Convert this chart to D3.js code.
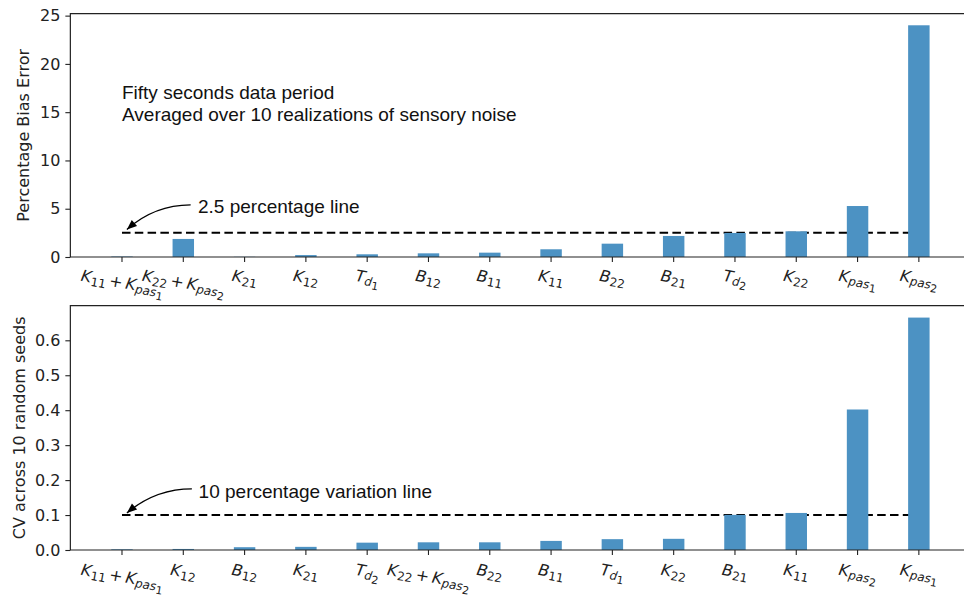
<!DOCTYPE html>
<html>
<head>
<meta charset="utf-8">
<script src="https://cdn.jsdelivr.net/npm/d3@7"></script>
<style>
  body { margin: 0; background: #fff; }
  svg { display: block; }
</style>
</head>
<body>
<div id="chart"></div>
<script>
// data
const topLabels = ["K11+Kpas1", "K22+Kpas2", "K21", "K12", "Td1", "B12", "B11", "K11", "B22", "B21", "Td2", "K22", "Kpas1", "Kpas2"];
const topValues = [0.05, 1.87, 0.02, 0.2, 0.28, 0.38, 0.45, 0.8, 1.38, 2.18, 2.49, 2.66, 5.28, 24.0];
const topTicks = [0, 5, 10, 15, 20, 25];
const topThreshold = 2.5;

const bottomLabels = ["K11+Kpas1", "K12", "B12", "K21", "Td2", "K22+Kpas2", "B22", "B11", "Td1", "K22", "B21", "K11", "Kpas2", "Kpas1"];
const bottomValues = [0.002, 0.003, 0.008, 0.009, 0.021, 0.022, 0.022, 0.026, 0.031, 0.032, 0.1005, 0.106, 0.402, 0.665];
const bottomTicks = [0, 0.1, 0.2, 0.3, 0.4, 0.5, 0.6];
const bottomThreshold = 0.1;

const W = 964, H = 599;
const barColor = "#4c92c3";
const tickFont = "'DejaVu Sans', sans-serif";
const noteFont = "'Liberation Sans', Arial, sans-serif";

const svg = d3.select("#chart").append("svg").attr("width", W).attr("height", H);

// shared x scale (categories are positions 0..13, matplotlib style margins)
const x = d3.scaleLinear().domain([-0.8425, 13.8425]).range([70.35, 970.5]);
const barW = 0.35;

// write a label like K11+Kpas1 as K_{11}+K_{pas_1}
function mathLabel(text, label, size) {
  const sub = size * 0.75, subsub = size * 0.68;
  label.split("+").forEach((term, ti) => {
    if (ti > 0) {
      text.append("tspan").attr("font-size", size).attr("dx", 3).text("+");
    }
    const m = term.match(/^([A-Z])([a-z]*)(\d*)$/);
    text.append("tspan").attr("font-style", "italic").attr("font-size", size)
      .attr("dx", ti > 0 ? 3 : 0).text(m[1]);
    let shift = 0;
    if (m[2]) {
      const d1 = size * 0.16;
      text.append("tspan").attr("font-style", "italic").attr("font-size", sub)
        .attr("dy", d1).text(m[2]);
      shift += d1;
      if (m[3]) {
        const d2 = size * 0.18;
        text.append("tspan").attr("font-size", subsub).attr("dy", d2).text(m[3]);
        shift += d2;
      }
    } else if (m[3]) {
      const d1 = size * 0.2;
      text.append("tspan").attr("font-size", sub).attr("dy", d1).text(m[3]);
      shift += d1;
    }
    if (shift) text.append("tspan").attr("font-size", size).attr("dy", -shift).text("\u200b");
  });
}

function arrow(g, x0, y0, x1, y1) {
  // curved arrow, starts horizontally, bends to the tip
  const cx = (x0 + x1) / 2 - 4, cy = y0;
  g.append("path")
    .attr("d", `M${x0},${y0} Q${cx},${cy} ${x1},${y1}`)
    .attr("fill", "none").attr("stroke", "#000").attr("stroke-width", 1.3);
  const ang = Math.atan2(y1 - cy, x1 - cx);
  const len = 10, hw = 4;
  const bx = x1 - len * Math.cos(ang), by = y1 - len * Math.sin(ang);
  const px = -Math.sin(ang) * hw, py = Math.cos(ang) * hw;
  g.append("path")
    .attr("d", `M${x1},${y1} L${bx + px},${by + py} L${bx - px},${by - py} Z`)
    .attr("fill", "#000");
}

function panel(cfg) {
  const y = d3.scaleLinear().domain([0, cfg.ymax]).range([cfg.bottom, cfg.top]);
  const g = svg.append("g");

  // threshold line (under the bars)
  g.append("line")
    .attr("x1", x(0)).attr("x2", x(13))
    .attr("y1", y(cfg.threshold)).attr("y2", y(cfg.threshold))
    .attr("stroke", "#000").attr("stroke-width", 2)
    .attr("stroke-dasharray", "8.5,4.3");

  // bars
  g.selectAll("rect.bar").data(cfg.values).join("rect")
    .attr("class", "bar")
    .attr("x", (d, i) => x(i - barW / 2))
    .attr("width", x(barW) - x(0))
    .attr("y", d => y(d))
    .attr("height", d => y(0) - y(d))
    .attr("fill", barColor);

  // y axis
  const yAxis = g.append("g").attr("transform", `translate(${x.range()[0]},0)`)
    .call(d3.axisLeft(y).tickValues(cfg.ticks).tickSize(5).tickPadding(5).tickFormat(cfg.fmt));
  yAxis.select(".domain").remove();
  yAxis.selectAll("line").attr("stroke", "#222").attr("stroke-width", 1.1);
  yAxis.selectAll("text").attr("font-family", tickFont).attr("font-size", 16).attr("fill", "#222");

  // x ticks
  g.selectAll("line.xtick").data(cfg.labels).join("line")
    .attr("class", "xtick")
    .attr("x1", (d, i) => x(i)).attr("x2", (d, i) => x(i))
    .attr("y1", cfg.bottom).attr("y2", cfg.bottom + 5)
    .attr("stroke", "#222").attr("stroke-width", 1.1);

  // frame (right spine falls outside the picture)
  const [xl, xr] = x.range();
  g.append("path")
    .attr("d", `M${xr},${cfg.top} H${xl} V${cfg.bottom} H${xr}`)
    .attr("fill", "none").attr("stroke", "#222").attr("stroke-width", 1.2);

  // rotated math labels, top of rotated box kept below the ticks
  const rot = 10, rad = rot * Math.PI / 180;
  cfg.labels.forEach((lab, i) => {
    const holder = g.append("g");
    const t = holder.append("text").attr("font-family", tickFont).attr("fill", "#222")
      .attr("text-anchor", "middle");
    mathLabel(t, lab, 16);
    const bb = t.node().getBBox();
    const ccx = bb.x + bb.width / 2, ccy = bb.y + bb.height / 2;
    const rh = bb.width * Math.sin(rad) + bb.height * Math.cos(rad);
    const cy = cfg.bottom + cfg.labelPad + rh / 2;
    t.attr("transform", `translate(${-ccx},${-ccy})`);
    holder.attr("transform", `translate(${x(i)},${cy}) rotate(${rot})`);
  });

  // y label
  g.append("text")
    .attr("transform", `translate(${cfg.ylabelX},${(cfg.top + cfg.bottom) / 2}) rotate(-90)`)
    .attr("text-anchor", "middle")
    .attr("font-family", tickFont).attr("font-size", 16).attr("fill", "#222")
    .text(cfg.ylabel);

  // annotations
  const ann = g.append("g");
  ann.append("text")
    .attr("x", x(cfg.note.tx)).attr("y", y(cfg.note.ty))
    .attr("font-family", noteFont).attr("font-size", 19).attr("fill", "#111")
    .text(cfg.note.text);
  arrow(ann, x(cfg.note.ax0), y(cfg.note.ay0), x(cfg.note.ax1), y(cfg.note.ay1));

  if (cfg.info) {
    const info = g.append("text")
      .attr("font-family", noteFont).attr("font-size", 19).attr("fill", "#111");
    cfg.info.forEach((line, k) => {
      info.append("tspan").attr("x", x(0)).attr("y", y(16.4) + k * 22).text(line);
    });
  }
}

panel({
  labels: topLabels, values: topValues, ticks: topTicks, threshold: topThreshold,
  top: 13.7, bottom: 257, ymax: 25.2, fmt: d3.format("d"),
  labelPad: 9, ylabelX: 28.5, ylabel: "Percentage Bias Error",
  note: { text: "2.5 percentage line", tx: 1.24, ty: 4.56, ax0: 1.12, ay0: 5.39, ax1: 0.08, ay1: 2.85 },
  info: ["Fifty seconds data period", "Averaged over 10 realizations of sensory noise"]
});

panel({
  labels: bottomLabels, values: bottomValues, ticks: bottomTicks, threshold: bottomThreshold,
  top: 305.7, bottom: 550, ymax: 0.699, fmt: d3.format(".1f"),
  labelPad: 10, ylabelX: 24.5, ylabel: "CV across 10 random seeds",
  note: { text: "10 percentage variation line", tx: 1.25, ty: 0.149, ax0: 1.14, ay0: 0.175, ax1: 0.08, ay1: 0.106 }
});
</script>
</body>
</html>
